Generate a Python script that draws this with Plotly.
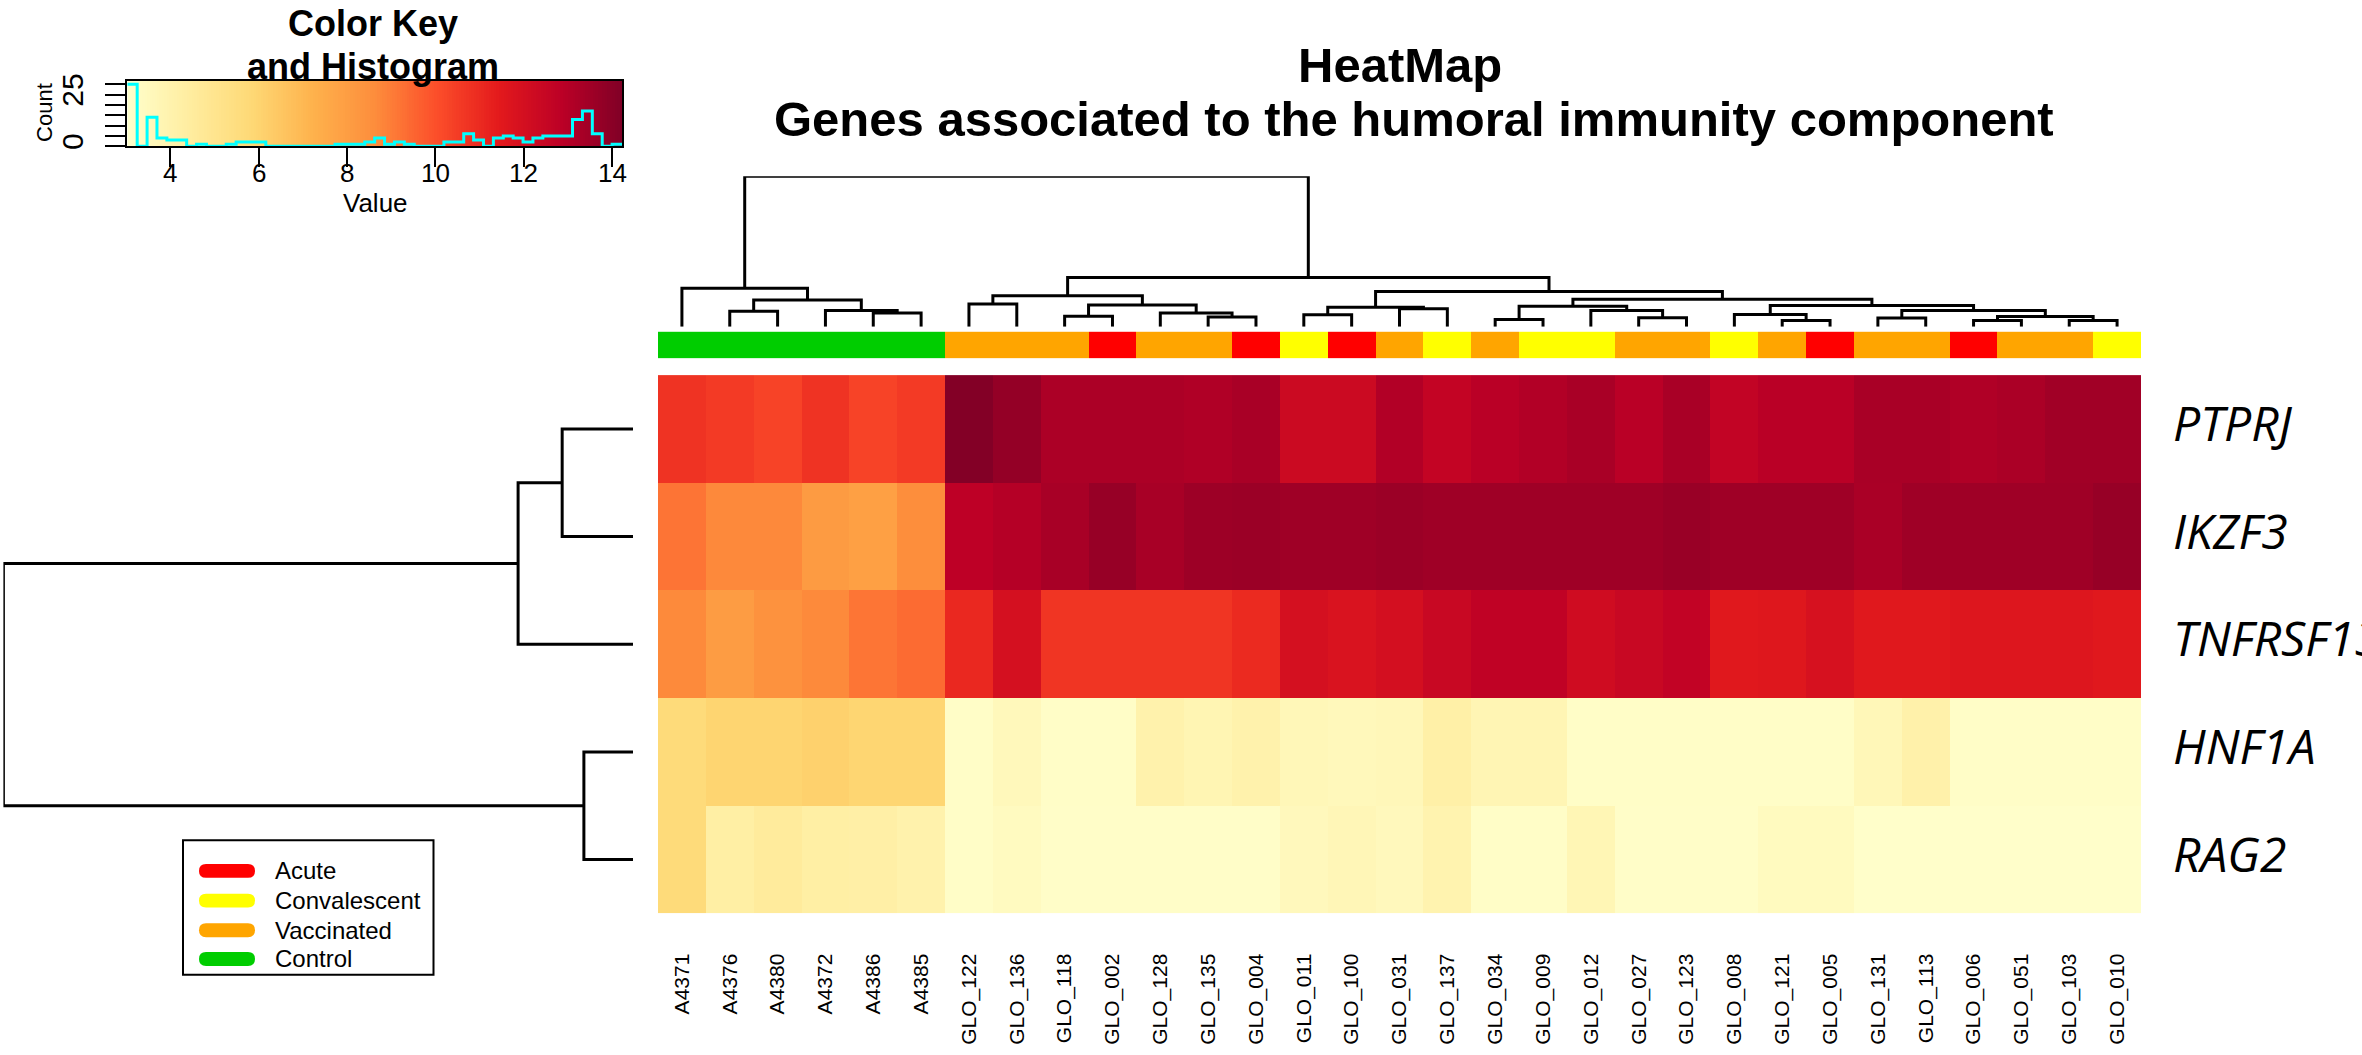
"""
Heatmap of humoral immunity genes with dendrograms, sample groups and a colour key.
"""

import numpy as np
import plotly.graph_objects as go

W, H = 2362, 1055
FONT = "Liberation Sans, Arial, sans-serif"

# ~~~~ data

SAMPLES = ["A4371", "A4376", "A4380", "A4372", "A4386", "A4385",
           "GLO_122", "GLO_136", "GLO_118", "GLO_002", "GLO_128", "GLO_135",
           "GLO_004", "GLO_011", "GLO_100", "GLO_031", "GLO_137", "GLO_034",
           "GLO_009", "GLO_012", "GLO_027", "GLO_123", "GLO_008", "GLO_121",
           "GLO_005", "GLO_131", "GLO_113", "GLO_006", "GLO_051", "GLO_103",
           "GLO_010"]

GROUPS = ["Control"] * 6 + [
    "Vaccinated", "Vaccinated", "Vaccinated", "Acute", "Vaccinated", "Vaccinated",
    "Acute", "Convalescent", "Acute", "Vaccinated", "Convalescent", "Vaccinated",
    "Convalescent", "Convalescent", "Vaccinated", "Vaccinated", "Convalescent",
    "Vaccinated", "Acute", "Vaccinated", "Vaccinated", "Acute", "Vaccinated",
    "Vaccinated", "Convalescent"]

GENES = ["PTPRJ", "IKZF3", "TNFRSF13B", "HNF1A", "RAG2"]

PTPRJ = [10.74, 10.55, 10.31, 10.74, 10.31, 10.55,
         14.15, 13.77, 13.22, 13.22, 13.22, 13.13, 13.29, 12.29, 12.29, 13.08,
         12.59, 12.88, 13.08, 13.29, 12.88, 13.29, 12.63, 12.88, 12.88, 13.29,
         13.29, 13.11, 13.24, 13.47, 13.47]
IKZF3 = [9.18, 8.71, 8.71, 8.10, 7.90, 8.60,
         12.80, 13.00, 13.30, 13.70, 13.30, 13.55, 13.60, 13.50, 13.50, 13.60,
         13.50, 13.50, 13.50, 13.50, 13.50, 13.65, 13.50, 13.50, 13.50, 13.25,
         13.50, 13.50, 13.50, 13.50, 13.70]
TNFRSF13B = [8.70, 8.05, 8.45, 8.70, 9.15, 9.38,
             11.04, 11.96, 10.69, 10.69, 10.69, 10.69, 11.00, 11.96, 11.80, 12.00,
             12.40, 12.70, 12.70, 12.15, 12.40, 12.65, 11.52, 11.60, 11.90, 11.52,
             11.52, 11.65, 11.65, 11.65, 11.52]
HNF1A = [5.70, 5.98, 5.98, 6.12, 5.95, 5.95,
         3.19, 3.57, 3.19, 3.19, 4.04, 3.81, 4.04, 3.65, 3.57, 3.62,
         4.20, 3.80, 3.80, 3.20, 3.20, 3.20, 3.20, 3.20, 3.20, 3.65,
         4.10, 3.20, 3.20, 3.20, 3.20]
RAG2 = [5.70, 4.30, 4.55, 4.30, 4.25, 4.05,
        3.19, 3.40, 3.15, 3.15, 3.15, 3.15, 3.15, 3.55, 3.70, 3.55,
        3.95, 3.20, 3.20, 3.75, 3.15, 3.15, 3.15, 3.45, 3.45, 3.10,
        3.10, 3.10, 3.10, 3.10, 3.10]

# merges (left, right, height); ids >= n_leaves are earlier merges
COL_MERGES = [
    (4, 5, 1.80), (3, 31, 2.15), (1, 2, 2.06), (33, 32, 3.55), (0, 34, 5.10),
    (6, 7, 3.03), (8, 9, 1.40), (11, 12, 1.27), (10, 38, 1.80), (37, 39, 2.89),
    (36, 40, 4.12), (13, 14, 1.58), (15, 16, 2.37), (42, 43, 2.59), (17, 18, 0.96),
    (20, 21, 1.18), (19, 46, 2.15), (45, 47, 2.72), (23, 24, 0.83), (22, 49, 1.62),
    (25, 26, 1.14), (27, 28, 0.83), (29, 30, 0.83), (52, 53, 1.36), (51, 54, 2.15),
    (50, 55, 2.81), (48, 56, 3.64), (44, 57, 4.69), (41, 58, 6.54), (35, 59, 20.04),
]
ROW_MERGES = [(0, 1, 2.25), (5, 2, 3.65), (3, 4, 1.56), (6, 7, 20.0)]

GROUP_NAMES = ["Acute", "Convalescent", "Vaccinated", "Control"]
GROUP_COLORS = ["#FF0000", "#FFFF00", "#FFA500", "#00CD00"]

# colour key histogram: 50 equal bins over the key range
KEY_MIN, KEY_MAX = 3.03, 14.22
HIST_COUNTS = [30, 0, 14, 4, 3, 3, 0, 1, 0, 0,
               1, 2, 2, 2, 0, 0, 0, 0, 0, 0,
               0, 1, 1, 1, 2, 4, 1, 2, 1, 0,
               0, 0, 2, 2, 6, 3, 0, 4, 5, 4,
               2, 4, 5, 5, 5, 13, 17, 6, 0, 1]
KEY_TICKS = [4, 6, 8, 10, 12, 14]
COUNT_TICKS = [0, 5, 10, 15, 20, 25, 30]
COUNT_LABELS = ["0", "", "", "", "", "25", ""]

YLORRD = ["#FFFFCC", "#FFEDA0", "#FED976", "#FEB24C", "#FD8D3C",
          "#FC4E2A", "#E31A1C", "#BD0026", "#800026"]


def dom_x(left, right):
    return [left / W, right / W]


def dom_y(top, bottom):
    return [1 - bottom / H, 1 - top / H]


def px(x, y):
    return x / W, 1 - y / H


def dendro_lines(n_leaves, merges, horizontal=False):
    """segments of a dendrogram, x = leaf position, y = height"""
    pos = {i: float(i) for i in range(n_leaves)}
    hgt = {i: 0.0 for i in range(n_leaves)}
    xs, ys = [], []
    for k, (a, b, h) in enumerate(merges):
        xs += [pos[a], pos[a], pos[b], pos[b], None]
        ys += [hgt[a], h, h, hgt[b], None]
        node = n_leaves + k
        pos[node] = (pos[a] + pos[b]) / 2
        hgt[node] = h
    if horizontal:
        return ys, xs
    return xs, ys


def pill_path(x0, x1, yc, r):
    def p(x, y):
        a, b = px(x, y)
        return f"{a:.6f},{b:.6f}"
    return " ".join([
        f"M{p(x0 + r, yc - r)}",
        f"L{p(x1 - r, yc - r)}",
        f"Q{p(x1, yc - r)} {p(x1, yc)}",
        f"Q{p(x1, yc + r)} {p(x1 - r, yc + r)}",
        f"L{p(x0 + r, yc + r)}",
        f"Q{p(x0, yc + r)} {p(x0, yc)}",
        f"Q{p(x0, yc - r)} {p(x0 + r, yc - r)}",
        "Z"])


def main():
    """main program"""
    # pylint: disable=invalid-name
    values = [PTPRJ, IKZF3, TNFRSF13B, HNF1A, RAG2]
    n_cols = len(SAMPLES)
    n_rows = len(GENES)
    scale = [[i / (len(YLORRD) - 1), c] for i, c in enumerate(YLORRD)]

    # layout in pixels of the reference
    heat_left, heat_right = 658, 2141
    heat_x = dom_x(heat_left, heat_right)
    heat_y = dom_y(372, 916)
    label_gap = 32

    fig = go.Figure()

    # ~~~~ main heatmap
    fig.add_trace(go.Heatmap(
        z=values, x=list(range(n_cols)), y=list(range(n_rows)),
        colorscale=scale, zmin=KEY_MIN, zmax=KEY_MAX, showscale=False,
        hoverinfo="skip", xaxis="x", yaxis="y"))

    # gene names in their own strip so the long one is cut at the page edge
    fig.add_trace(go.Scatter(
        x=[heat_right + label_gap] * n_rows, y=list(range(n_rows)), text=GENES,
        mode="text", textposition="middle right", cliponaxis=True,
        textfont=dict(family="Open Sans", size=48, style="italic", color="black"),
        hoverinfo="skip", showlegend=False, xaxis="x6", yaxis="y"))

    # ~~~~ group colour bar
    codes = [GROUP_NAMES.index(g) for g in GROUPS]
    group_scale = []
    for i, c in enumerate(GROUP_COLORS):
        group_scale += [[i / len(GROUP_COLORS), c], [(i + 1) / len(GROUP_COLORS), c]]
    fig.add_trace(go.Heatmap(
        z=[codes], x=list(range(n_cols)), y=[0],
        colorscale=group_scale, zmin=-0.5, zmax=len(GROUP_NAMES) - 0.5,
        showscale=False, hoverinfo="skip", xaxis="x2", yaxis="y2"))

    # ~~~~ dendrograms
    cx, cy = dendro_lines(n_cols, COL_MERGES)
    fig.add_trace(go.Scatter(
        x=cx, y=cy, mode="lines", line=dict(color="black", width=3),
        cliponaxis=False, hoverinfo="skip", showlegend=False,
        xaxis="x3", yaxis="y3"))
    rx, ry = dendro_lines(n_rows, ROW_MERGES, horizontal=True)
    fig.add_trace(go.Scatter(
        x=rx, y=ry, mode="lines", line=dict(color="black", width=3),
        cliponaxis=False, hoverinfo="skip", showlegend=False,
        xaxis="x4", yaxis="y4"))

    # ~~~~ colour key with histogram
    key_count_max = 31.8
    edges = np.linspace(KEY_MIN, KEY_MAX, 201)
    mids = (edges[:-1] + edges[1:]) / 2
    fig.add_trace(go.Heatmap(
        z=[mids], x=edges, y=[0, key_count_max],
        colorscale=scale, zmin=KEY_MIN, zmax=KEY_MAX, showscale=False,
        hoverinfo="skip", xaxis="x5", yaxis="y5"))
    bins = np.linspace(KEY_MIN, KEY_MAX, len(HIST_COUNTS) + 1)
    fig.add_trace(go.Scatter(
        x=list(bins), y=HIST_COUNTS + [HIST_COUNTS[-1]], mode="lines",
        line=dict(color="#00FFFF", width=3, shape="hv"),
        hoverinfo="skip", showlegend=False, xaxis="x5", yaxis="y5"))

    hidden = dict(showgrid=False, zeroline=False, showticklabels=False,
                  ticks="", showline=False)

    fig.update_layout(
        width=W, height=H,
        margin=dict(l=0, r=0, t=0, b=0),
        paper_bgcolor="white", plot_bgcolor="white",
        showlegend=False,
        font=dict(family=FONT, color="black"),
        xaxis=dict(domain=heat_x, anchor="y", range=[-0.5, n_cols - 0.5],
                   tickvals=list(range(n_cols)), ticktext=SAMPLES, tickangle=-90,
                   tickfont=dict(family=FONT, size=21), ticks="",
                   ticklabelstandoff=35, showgrid=False, zeroline=False),
        yaxis=dict(domain=heat_y, anchor="x", range=[n_rows - 0.5, -0.5], **hidden),
        xaxis2=dict(domain=heat_x, anchor="y2", range=[-0.5, n_cols - 0.5], **hidden),
        yaxis2=dict(domain=dom_y(328, 355), anchor="x2", range=[-0.5, 0.5], **hidden),
        xaxis3=dict(domain=heat_x, anchor="y3", range=[-0.5, n_cols - 0.5], **hidden),
        yaxis3=dict(domain=dom_y(171, 323), anchor="x3", range=[0, 20.04], **hidden),
        xaxis4=dict(domain=dom_x(3.4, 633), anchor="y4", range=[20.0, 0], **hidden),
        yaxis4=dict(domain=heat_y, anchor="x4", range=[n_rows - 0.5, -0.5], **hidden),
        xaxis6=dict(domain=dom_x(heat_right, W), anchor="y", range=[heat_right, W],
                    **hidden),
        xaxis5=dict(domain=dom_x(127.3, 622), anchor="y5", range=[KEY_MIN, KEY_MAX],
                    tickvals=KEY_TICKS, ticks="outside", ticklen=19, tickwidth=2,
                    tickcolor="black", showticklabels=False,
                    showline=True, mirror=True, linecolor="black", linewidth=2,
                    showgrid=False, zeroline=False),
        yaxis5=dict(domain=dom_y(74.3, 140.7), anchor="x5", range=[0, key_count_max],
                    tickvals=COUNT_TICKS, ticktext=COUNT_LABELS, tickangle=-90,
                    ticks="outside", ticklen=20, tickwidth=2, tickcolor="black",
                    tickfont=dict(family=FONT, size=30), ticklabelstandoff=10,
                    showline=True, mirror=True, linecolor="black", linewidth=2,
                    showgrid=False, zeroline=False),
    )

    # ~~~~ titles and labels
    def note(text, x, y, size, angle=0, anchor="center"):
        ax, ay = px(x, y)
        fig.add_annotation(text=text, x=ax, y=ay, xref="paper", yref="paper",
                           xanchor=anchor, yanchor="middle", textangle=angle,
                           showarrow=False, font=dict(family=FONT, size=size, color="black"))

    note("<b>HeatMap</b>", 1400, 59, 49)
    note("<b>Genes associated to the humoral immunity component</b>", 1414, 113, 49)
    note("<b>Color Key</b>", 373, 17, 36)
    note("<b>and Histogram</b>", 373, 60, 36)
    note("Value", 375, 198, 26)
    note("Count", 45, 107, 22, angle=-90)

    # key value labels sit right under the tick marks
    for v in KEY_TICKS:
        fig.add_annotation(text=str(v), x=v, y=px(0, 168)[1], xref="x5", yref="paper",
                           xanchor="center", yanchor="middle", showarrow=False,
                           font=dict(family=FONT, size=26, color="black"))

    # ~~~~ group legend
    bx0, by0 = px(183, 842)
    bx1, by1 = px(433.5, 978)
    fig.add_shape(type="rect", xref="paper", yref="paper", x0=bx0, x1=bx1,
                  y0=by1, y1=by0, line=dict(color="black", width=2),
                  fillcolor="white", layer="above")
    for name, color, yc in zip(GROUP_NAMES, GROUP_COLORS, [873, 903, 933, 962]):
        fig.add_shape(type="path", xref="paper", yref="paper",
                      path=pill_path(199, 255, yc, 7), fillcolor=color,
                      line=dict(width=0), layer="above")
        note(name, 273, yc, 24, anchor="left")

    fig.write_html(
        "out.html",
        config={"displayModeBar": False},
        post_script=("document.body.style.margin='0px';"
                     "document.getElementById('{plot_id}').style.overflow='hidden';"))


if __name__ == "__main__":
    main()
